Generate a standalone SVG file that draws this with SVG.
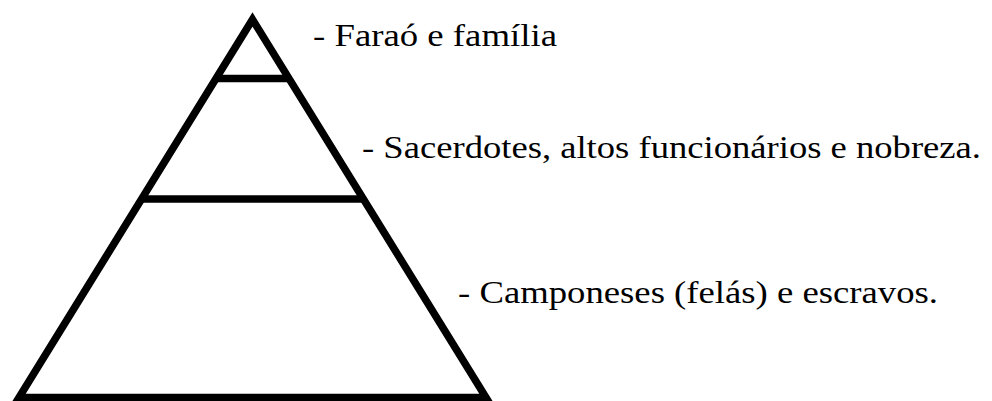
<svg xmlns="http://www.w3.org/2000/svg" width="992" height="401" viewBox="0 0 992 401">
<style>
.ln{stroke:#000;stroke-width:7.5;fill:none;stroke-linejoin:miter;stroke-miterlimit:10}
text{font-family:'Liberation Serif','DejaVu Serif',serif;font-size:31px;fill:#000}
</style>
<rect width="992" height="401" fill="#fff"/>
<g id="pyramid">
<polygon class="ln" points="252.5,19.5 486,397.5 19,397.5"/>
</g>
<g id="connectors">
<line class="ln" x1="216" y1="78.5" x2="289" y2="78.5"/>
<line class="ln" x1="141.6" y1="199" x2="363.4" y2="199"/>
</g>
<g id="label-farao"><text x="313" y="46" textLength="244" lengthAdjust="spacingAndGlyphs">- Faraó e família</text></g>
<g id="label-sacerdotes"><text x="362" y="157.5" textLength="619" lengthAdjust="spacingAndGlyphs">- Sacerdotes, altos funcionários e nobreza.</text></g>
<g id="label-camponeses"><text x="458" y="303" textLength="480" lengthAdjust="spacingAndGlyphs">- Camponeses (felás) e escravos.</text></g>
</svg>
